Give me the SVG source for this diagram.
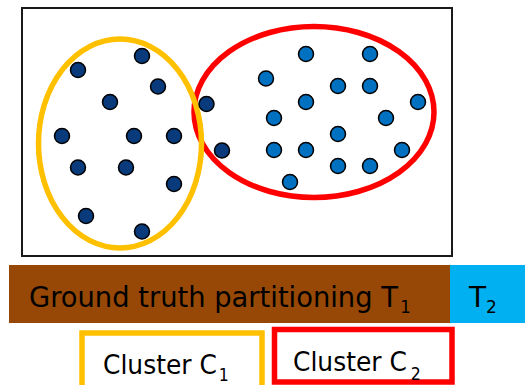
<svg xmlns="http://www.w3.org/2000/svg" width="525" height="385" viewBox="0 0 525 385">
  <style>
    .frame { fill: #ffffff; stroke: #1a1a1a; stroke-width: 2; }
    .hull { fill: none; stroke-width: 5.5; }
    .pt { stroke: #000000; stroke-width: 1.5; }
    .p1 { fill: #093a7c; }
    .p2 { fill: #0070c0; }
    .lbl { font-family: "DejaVu Sans", Verdana, sans-serif; fill: #000000; }
    .sub { font-size: 17px; }
  </style>

  <!-- data area -->
  <rect id="frame" class="frame" x="22" y="8" width="430" height="248"/>

  <!-- cluster outlines (C2 beneath C1) -->
  <g id="cluster-c2">
    <ellipse class="hull" stroke="#ff0000" cx="314" cy="112" rx="120" ry="85.5"/>
  </g>
  <g id="cluster-c1">
    <ellipse class="hull" stroke="#ffc000" cx="120" cy="143.5" rx="81.5" ry="104.5"/>
  </g>

  <!-- points of true class T1 -->
  <g id="points-t1">
    <circle class="pt p1" cx="78" cy="70" r="7.5"/>
    <circle class="pt p1" cx="142" cy="56" r="7.5"/>
    <circle class="pt p1" cx="158" cy="86.5" r="7.5"/>
    <circle class="pt p1" cx="110" cy="102" r="7.5"/>
    <circle class="pt p1" cx="62" cy="136" r="7.5"/>
    <circle class="pt p1" cx="134" cy="136" r="7.5"/>
    <circle class="pt p1" cx="174" cy="136" r="7.5"/>
    <circle class="pt p1" cx="78" cy="167.5" r="7.5"/>
    <circle class="pt p1" cx="126" cy="167.5" r="7.5"/>
    <circle class="pt p1" cx="174" cy="184" r="7.5"/>
    <circle class="pt p1" cx="86" cy="216" r="7.5"/>
    <circle class="pt p1" cx="142" cy="231.5" r="7.5"/>
    <circle class="pt p1" cx="206.5" cy="104" r="7.5"/>
    <circle class="pt p1" cx="222" cy="150.5" r="7.5"/>
  </g>

  <!-- points of true class T2 -->
  <g id="points-t2">
    <circle class="pt p2" cx="306" cy="54" r="7.5"/>
    <circle class="pt p2" cx="370" cy="54" r="7.5"/>
    <circle class="pt p2" cx="266" cy="78.5" r="7.5"/>
    <circle class="pt p2" cx="338" cy="86" r="7.5"/>
    <circle class="pt p2" cx="370" cy="86" r="7.5"/>
    <circle class="pt p2" cx="306" cy="102" r="7.5"/>
    <circle class="pt p2" cx="418" cy="102" r="7.5"/>
    <circle class="pt p2" cx="274" cy="118" r="7.5"/>
    <circle class="pt p2" cx="386" cy="118" r="7.5"/>
    <circle class="pt p2" cx="338" cy="134" r="7.5"/>
    <circle class="pt p2" cx="274" cy="150" r="7.5"/>
    <circle class="pt p2" cx="306" cy="150" r="7.5"/>
    <circle class="pt p2" cx="402" cy="150" r="7.5"/>
    <circle class="pt p2" cx="338" cy="166" r="7.5"/>
    <circle class="pt p2" cx="370" cy="166" r="7.5"/>
    <circle class="pt p2" cx="290" cy="182" r="7.5"/>
  </g>

  <!-- ground truth bar -->
  <g id="truth-t1">
    <rect x="9" y="265" width="441" height="58" fill="#974806"/>
    <text class="lbl" font-size="28" transform="translate(29 307) scale(0.977 1)">Ground truth partitioning T<tspan class="sub" dx="2.4" dy="6">1</tspan></text>
  </g>
  <g id="truth-t2">
    <rect x="450" y="265" width="75" height="58" fill="#00b0f0"/>
    <text class="lbl" font-size="28" x="469" y="307">T<tspan class="sub" dy="6">2</tspan></text>
  </g>

  <!-- cluster legend boxes -->
  <g id="legend-c1">
    <rect x="82" y="333" width="180" height="62" fill="#ffffff" stroke="#ffc000" stroke-width="5.5"/>
    <text class="lbl" font-size="27" transform="translate(103 374) scale(0.925 1)">Cluster C<tspan class="sub" dx="2" dy="7">1</tspan></text>
  </g>
  <g id="legend-c2">
    <rect x="274.5" y="329.5" width="177.5" height="52.5" fill="#ffffff" stroke="#ff0000" stroke-width="5.5"/>
    <text class="lbl" font-size="27" transform="translate(293 371) scale(0.925 1)">Cluster C<tspan class="sub" dx="4" dy="9">2</tspan></text>
  </g>
</svg>
